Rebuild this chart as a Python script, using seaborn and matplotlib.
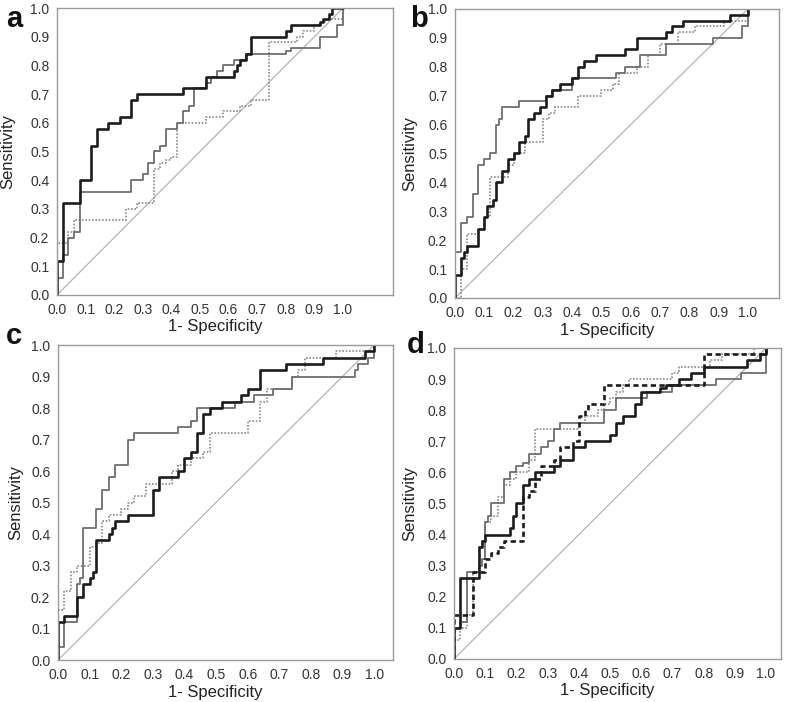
import matplotlib
matplotlib.use("Agg")
import matplotlib.pyplot as plt
import seaborn as sns
import numpy as np

# ROC step curves (x = 1 - specificity, y = sensitivity)
# each point: jump to y at x, then flat until the next x (steps-post)

# panel a
a_black_x = [0, 0, 0.02, 0.08, 0.12, 0.14, 0.18, 0.22, 0.26, 0.28, 0.44, 0.52, 0.62, 0.63, 0.64, 0.66, 0.68, 0.80, 0.82, 0.92, 0.93, 0.95, 0.96, 1.0]
a_black_y = [0, 0.12, 0.32, 0.40, 0.52, 0.58, 0.60, 0.62, 0.68, 0.70, 0.72, 0.76, 0.78, 0.80, 0.82, 0.84, 0.90, 0.92, 0.94, 0.95, 0.96, 0.98, 1.0, 1.0]
a_grey_x = [0, 0, 0.02, 0.04, 0.06, 0.08, 0.26, 0.30, 0.32, 0.34, 0.36, 0.38, 0.42, 0.44, 0.46, 0.48, 0.52, 0.54, 0.56, 0.58, 0.62, 0.66, 0.80, 0.82, 0.84, 0.92, 0.98, 1.0]
a_grey_y = [0, 0.06, 0.14, 0.20, 0.22, 0.36, 0.40, 0.42, 0.46, 0.50, 0.52, 0.58, 0.60, 0.64, 0.66, 0.72, 0.74, 0.76, 0.78, 0.80, 0.82, 0.84, 0.85, 0.86, 0.86, 0.90, 0.94, 1.0]
a_dot_x = [0, 0, 0.04, 0.06, 0.24, 0.28, 0.34, 0.36, 0.38, 0.40, 0.42, 0.52, 0.58, 0.64, 0.68, 0.74, 0.84, 0.86, 0.90, 0.92, 0.94, 1.0]
a_dot_y = [0, 0.18, 0.22, 0.26, 0.30, 0.32, 0.44, 0.46, 0.47, 0.48, 0.60, 0.62, 0.64, 0.66, 0.68, 0.88, 0.90, 0.92, 0.94, 0.95, 0.96, 1.0]

# panel b
b_black_x = [0, 0, 0.02, 0.03, 0.04, 0.08, 0.10, 0.11, 0.13, 0.14, 0.16, 0.18, 0.20, 0.22, 0.24, 0.25, 0.27, 0.29, 0.31, 0.33, 0.36, 0.40, 0.42, 0.44, 0.48, 0.58, 0.62, 0.72, 0.74, 0.78, 0.94, 1.0]
b_black_y = [0, 0.08, 0.14, 0.16, 0.18, 0.24, 0.28, 0.32, 0.34, 0.40, 0.44, 0.48, 0.50, 0.54, 0.56, 0.62, 0.64, 0.66, 0.70, 0.72, 0.74, 0.76, 0.80, 0.82, 0.84, 0.86, 0.90, 0.92, 0.94, 0.96, 0.98, 1.0]
b_grey_x = [0, 0, 0.02, 0.04, 0.06, 0.08, 0.10, 0.12, 0.14, 0.15, 0.16, 0.22, 0.31, 0.33, 0.40, 0.55, 0.58, 0.63, 0.72, 0.88, 0.98, 1.0]
b_grey_y = [0, 0.16, 0.26, 0.28, 0.36, 0.46, 0.48, 0.50, 0.60, 0.62, 0.66, 0.68, 0.70, 0.72, 0.76, 0.78, 0.80, 0.84, 0.88, 0.90, 0.94, 1.0]
b_dot_x = [0, 0.02, 0.04, 0.08, 0.10, 0.12, 0.18, 0.20, 0.24, 0.30, 0.32, 0.34, 0.42, 0.50, 0.54, 0.56, 0.62, 0.66, 0.70, 0.76, 0.82, 0.92, 1.0]
b_dot_y = [0, 0.10, 0.22, 0.24, 0.28, 0.42, 0.46, 0.50, 0.54, 0.62, 0.64, 0.66, 0.70, 0.72, 0.74, 0.78, 0.80, 0.84, 0.88, 0.92, 0.94, 0.96, 1.0]

# panel c
c_black_x = [0, 0, 0.02, 0.06, 0.08, 0.10, 0.11, 0.12, 0.16, 0.17, 0.18, 0.22, 0.30, 0.32, 0.38, 0.40, 0.42, 0.44, 0.46, 0.48, 0.52, 0.58, 0.60, 0.64, 0.72, 0.84, 0.97, 1.0]
c_black_y = [0, 0.12, 0.14, 0.20, 0.24, 0.26, 0.28, 0.38, 0.40, 0.42, 0.44, 0.46, 0.54, 0.58, 0.60, 0.64, 0.66, 0.72, 0.78, 0.80, 0.82, 0.84, 0.86, 0.92, 0.94, 0.96, 0.98, 1.0]
c_grey_x = [0, 0, 0.02, 0.06, 0.07, 0.08, 0.12, 0.14, 0.16, 0.18, 0.22, 0.24, 0.38, 0.42, 0.44, 0.56, 0.62, 0.68, 0.74, 0.94, 0.95, 0.98, 1.0]
c_grey_y = [0, 0.04, 0.12, 0.24, 0.26, 0.42, 0.48, 0.54, 0.58, 0.62, 0.70, 0.72, 0.74, 0.76, 0.80, 0.82, 0.84, 0.86, 0.90, 0.92, 0.94, 0.96, 1.0]
c_dot_x = [0, 0.02, 0.04, 0.06, 0.10, 0.12, 0.14, 0.16, 0.20, 0.22, 0.24, 0.28, 0.36, 0.38, 0.42, 0.46, 0.48, 0.60, 0.64, 0.66, 0.74, 0.76, 0.78, 0.88, 1.0]
c_dot_y = [0.16, 0.22, 0.28, 0.30, 0.36, 0.37, 0.44, 0.46, 0.48, 0.50, 0.52, 0.56, 0.60, 0.62, 0.64, 0.66, 0.72, 0.76, 0.82, 0.86, 0.90, 0.92, 0.96, 0.98, 1.0]

# panel d
d_black_x = [0, 0, 0.02, 0.08, 0.09, 0.10, 0.18, 0.19, 0.20, 0.22, 0.24, 0.26, 0.32, 0.34, 0.38, 0.42, 0.50, 0.52, 0.54, 0.58, 0.60, 0.66, 0.68, 0.72, 0.76, 0.80, 0.94, 0.98, 1.0]
d_black_y = [0, 0.10, 0.26, 0.36, 0.38, 0.40, 0.42, 0.46, 0.50, 0.56, 0.58, 0.60, 0.62, 0.64, 0.68, 0.70, 0.72, 0.76, 0.78, 0.82, 0.86, 0.87, 0.88, 0.90, 0.92, 0.94, 0.96, 0.98, 1.0]
d_dash_x = [0, 0, 0.06, 0.10, 0.12, 0.14, 0.16, 0.22, 0.24, 0.26, 0.28, 0.32, 0.34, 0.38, 0.40, 0.42, 0.43, 0.48, 0.80, 1.0]
d_dash_y = [0, 0.14, 0.28, 0.32, 0.34, 0.36, 0.38, 0.52, 0.54, 0.58, 0.62, 0.64, 0.68, 0.70, 0.78, 0.80, 0.82, 0.88, 0.98, 1.0]
d_grey_x = [0, 0, 0.02, 0.04, 0.08, 0.09, 0.10, 0.11, 0.12, 0.16, 0.18, 0.20, 0.22, 0.24, 0.28, 0.30, 0.32, 0.34, 0.48, 0.52, 0.62, 0.70, 0.84, 0.92, 1.0]
d_grey_y = [0, 0.10, 0.12, 0.28, 0.30, 0.32, 0.44, 0.46, 0.50, 0.58, 0.60, 0.62, 0.63, 0.66, 0.68, 0.70, 0.74, 0.76, 0.80, 0.84, 0.86, 0.88, 0.90, 0.92, 1.0]
d_dot_x = [0, 0.02, 0.04, 0.06, 0.08, 0.09, 0.10, 0.12, 0.14, 0.16, 0.18, 0.20, 0.24, 0.26, 0.40, 0.42, 0.46, 0.48, 0.50, 0.52, 0.54, 0.56, 0.70, 0.72, 0.82, 0.86, 0.96]
d_dot_y = [0.06, 0.10, 0.14, 0.28, 0.36, 0.38, 0.44, 0.46, 0.52, 0.56, 0.58, 0.60, 0.64, 0.74, 0.76, 0.78, 0.80, 0.82, 0.84, 0.86, 0.88, 0.90, 0.92, 0.94, 0.96, 0.98, 1.0]

ticks = np.round(np.arange(0, 1.01, 0.1), 1)
tick_labels = [f"{t:.1f}" for t in ticks]

BLACK = "#1c1c1c"
GREY = "#6e6e6e"
DOT = "#8a8a8a"
DIAG = "#b4b4b4"
FRAME = "#9a9a9a"

sns.set_style("white")
plt.rcParams["font.family"] = ["Liberation Sans", "DejaVu Sans"]

fig = plt.figure(figsize=(7.87, 7.02), dpi=100)

# [left, bottom, width, height], xmax, letter position, ylabel x (axes frac)
panels = [
    ("a", [0.0724, 0.5798, 0.4270, 0.4088], 1.175, (0.008, 0.962), -0.125),
    ("b", [0.5781, 0.5755, 0.4117, 0.4117], 1.106, (0.521, 0.962), -0.117),
    ("c", [0.0737, 0.0598, 0.4257, 0.4487], 1.060, (0.008, 0.510), -0.104),
    ("d", [0.5769, 0.0613, 0.4155, 0.4430], 1.048, (0.517, 0.497), -0.113),
]

curves = {
    "a": [(a_dot_x, a_dot_y, DOT, 1.2, (0, (1, 1))),
          (a_grey_x, a_grey_y, GREY, 1.3, "-"),
          (a_black_x, a_black_y, BLACK, 1.9, "-")],
    "b": [(b_dot_x, b_dot_y, DOT, 1.2, (0, (1, 1))),
          (b_grey_x, b_grey_y, GREY, 1.3, "-"),
          (b_black_x, b_black_y, BLACK, 1.9, "-")],
    "c": [(c_dot_x, c_dot_y, DOT, 1.2, (0, (1, 1))),
          (c_grey_x, c_grey_y, GREY, 1.3, "-"),
          (c_black_x, c_black_y, BLACK, 1.9, "-")],
    "d": [(d_dot_x, d_dot_y, DOT, 1.2, (0, (1, 1))),
          (d_grey_x, d_grey_y, GREY, 1.3, "-"),
          (d_dash_x, d_dash_y, BLACK, 1.9, (0, (2, 1.3))),
          (d_black_x, d_black_y, BLACK, 1.9, "-")],
}

for letter, rect, xmax, lpos, ylab_x in panels:
    ax = fig.add_axes(rect)

    # reference diagonal
    sns.lineplot(x=[0, 1], y=[0, 1], color=DIAG, lw=0.9, ax=ax)

    for xs, ys, col, lw, ls in curves[letter]:
        sns.lineplot(x=xs, y=ys, estimator=None, sort=False,
                     drawstyle="steps-post", color=col, lw=lw,
                     linestyle=ls, ax=ax)

    ax.set_xlim(0, xmax)
    ax.set_ylim(0, 1.0)
    ax.set_xticks(ticks)
    ax.set_xticklabels(tick_labels)
    ax.set_yticks(ticks)
    ax.set_yticklabels(tick_labels)
    ax.tick_params(axis="both", direction="out", length=3, width=0.8,
                   color=FRAME, labelsize=10, pad=2.5, labelcolor="#333333")
    for sp in ax.spines.values():
        sp.set_color(FRAME)
        sp.set_linewidth(1.0)

    ax.set_xlabel("1- Specificity", fontsize=12, color="#222222")
    ax.set_ylabel("Sensitivity", fontsize=12, color="#222222")
    ax.xaxis.set_label_coords(0.47, -0.085 if letter in "ab" else -0.078)
    ax.yaxis.set_label_coords(ylab_x, 0.5)

    fig.text(lpos[0], lpos[1], letter, fontsize=21, fontweight="bold",
             color="#111111", ha="left", va="baseline")

fig.savefig("out.png", dpi=100)
